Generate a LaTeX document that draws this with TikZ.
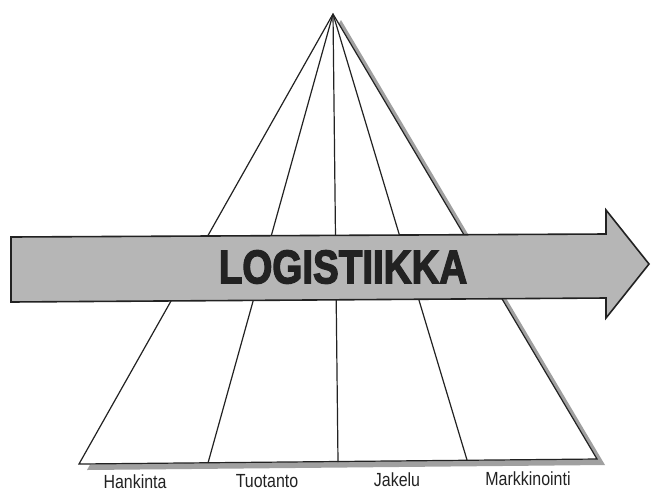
\documentclass[tikz,border=0pt]{standalone}
\usepackage{fontspec}
\setmainfont{Liberation Sans}
\newfontfamily\heavyfont[FakeBold=3.2]{Liberation Sans Bold}
\definecolor{arrowgrey}{HTML}{B6B6B6}
\definecolor{shadowgrey}{HTML}{A0A0A0}
\definecolor{inkline}{HTML}{222222}
\begin{document}
\begin{tikzpicture}[x=1pt,y=-1pt,
  edge/.style={draw=inkline,line width=1.2pt},
  lbl/.style={font=\fontsize{19}{19}\selectfont,text=inkline,inner sep=0pt},
  arrowbody/.style={fill=arrowgrey,draw=inkline,line width=1.6pt,line join=miter}]
\useasboundingbox (0,0) rectangle (652,493);
\fill[white] (0,0) rectangle (652,493);
% named points
\coordinate (A) at (333,14);
\coordinate (B0) at (79,464);
\coordinate (B1) at (208,463);
\coordinate (B2) at (338,462);
\coordinate (B3) at (467,460);
\coordinate (B4) at (597,459);
% shadow
\fill[shadowgrey] ([shift={(8,6)}]A) -- ([shift={(8,6)}]B4) -- ([shift={(8,6)}]B0) -- cycle;
\fill[white] (A) -- (B4) -- (B0) -- cycle;
% triangle
\draw[edge,line join=miter] (A) -- (B4) -- (B0) -- cycle;
\draw[edge] (A) -- (B1);
\draw[edge] (A) -- (B2);
\draw[edge] (A) -- (B3);
% arrow
\draw[arrowbody] (11,237) -- (606,234) -- (606,210) -- (649,264) -- (606,318) -- (606,298) -- (11,302) -- cycle;
\node[inner sep=0pt,text=inkline] (title) at (343,267)
  {\scalebox{0.82}[1]{\heavyfont\fontsize{47}{47}\selectfont LOGISTIIKKA}};
% labels
\node[lbl] (hankinta) at (135,482) {\scalebox{0.84}[1]{Hankinta}};
\node[lbl] (tuotanto) at (267,481) {\scalebox{0.84}[1]{Tuotanto}};
\node[lbl] (jakelu) at (397,480) {\scalebox{0.84}[1]{Jakelu}};
\node[lbl] (markkinointi) at (528,479) {\scalebox{0.84}[1]{Markkinointi}};
\end{tikzpicture}
\end{document}
